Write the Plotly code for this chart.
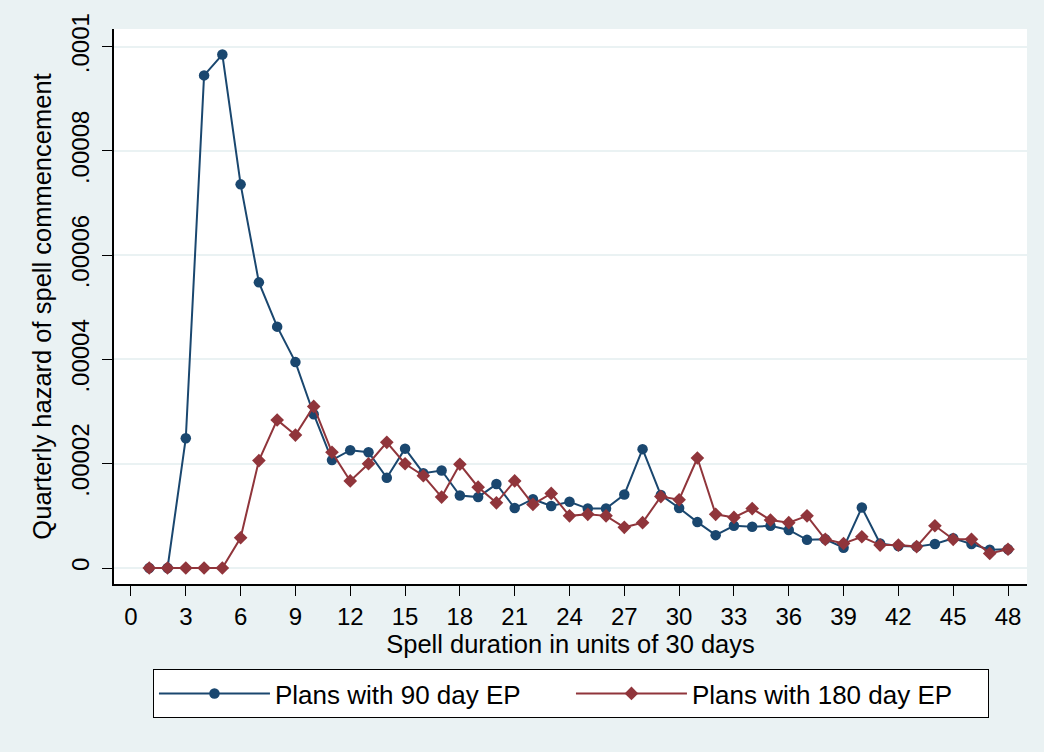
import plotly.graph_objects as go

duration = list(range(1, 49))
ep90 = [0, 0, 0.0000249, 0.0000945, 0.0000985, 0.0000736, 0.0000548, 0.0000463, 0.0000395, 0.0000295,
        0.0000207, 0.0000226, 0.0000222, 0.0000173, 0.0000229, 0.0000182, 0.0000187, 0.0000139, 0.0000136, 0.0000161,
        0.0000115, 0.0000132, 0.0000119, 0.0000127, 0.0000114, 0.0000114, 0.0000141, 0.0000228, 0.0000140, 0.0000115,
        0.0000088, 0.0000063, 0.0000081, 0.0000079, 0.0000081, 0.0000073, 0.0000054, 0.0000055, 0.0000039, 0.0000116,
        0.0000047, 0.0000042, 0.0000041, 0.0000046, 0.0000057, 0.0000046, 0.0000035, 0.0000036]
ep180 = [0, 0, 0, 0, 0, 0.0000058, 0.0000206, 0.0000284, 0.0000255, 0.0000310,
         0.0000222, 0.0000167, 0.0000200, 0.0000241, 0.0000200, 0.0000177, 0.0000136, 0.0000199, 0.0000155, 0.0000125,
         0.0000167, 0.0000122, 0.0000143, 0.0000100, 0.0000103, 0.0000100, 0.0000078, 0.0000087, 0.0000137, 0.0000131,
         0.0000211, 0.0000103, 0.0000097, 0.0000114, 0.0000092, 0.0000087, 0.0000100, 0.0000055, 0.0000047, 0.0000060,
         0.0000044, 0.0000044, 0.0000041, 0.0000081, 0.0000055, 0.0000055, 0.0000028, 0.0000036]
x_ticks = list(range(0, 49, 3))
y_ticks = [0, 0.00002, 0.00004, 0.00006, 0.00008, 0.0001]
y_labels = ["0", ".00002", ".00004", ".00006", ".00008", ".0001"]

BLUE = "#1a476f"
RED = "#90353b"
BG = "#eaf2f3"
FONT = "Liberation Sans, Arial, Helvetica, sans-serif"

fig = go.Figure()
fig.add_trace(go.Scatter(x=duration, y=ep90, mode="lines+markers", name="Plans with 90 day EP",
                         line=dict(color=BLUE, width=2),
                         marker=dict(symbol="circle", size=10.5, color=BLUE)))
fig.add_trace(go.Scatter(x=duration, y=ep180, mode="lines+markers", name="Plans with 180 day EP",
                         line=dict(color=RED, width=2),
                         marker=dict(symbol="diamond", size=10.5, color=RED)))

fig.update_layout(
    width=1044, height=752,
    margin=dict(l=114, r=17, t=29, b=168),
    paper_bgcolor=BG, plot_bgcolor="white",
    font=dict(family=FONT, size=24, color="black"),
    showlegend=True,
    legend=dict(orientation="h", x=0.5005, xanchor="center", y=-0.1532, yanchor="top",
                bgcolor="white", bordercolor="black", borderwidth=1,
                font=dict(size=26), entrywidth=291, entrywidthmode="pixels",
                itemwidth=111),
    xaxis=dict(range=[-0.93, 49.04], tickmode="array", tickvals=x_ticks,
               ticks="outside", ticklen=10, tickwidth=1.3, tickcolor="black",
               showline=True, linecolor="black", linewidth=1.8,
               showgrid=False, zeroline=False,
               title=dict(text="Spell duration in units of 30 days", font=dict(size=25.5), standoff=2),
               tickfont=dict(size=24)),
    yaxis=dict(range=[-0.00000307, 0.0001034], tickmode="array", tickvals=y_ticks, ticktext=y_labels,
               tickangle=-90, ticklabelstandoff=4,
               ticks="outside", ticklen=10, tickwidth=1.3, tickcolor="black",
               showline=True, linecolor="black", linewidth=1.8,
               showgrid=True, gridcolor=BG, gridwidth=2, zeroline=False,
               title=dict(text="Quarterly hazard of spell commencement", font=dict(size=25.5), standoff=8),
               tickfont=dict(size=24)),
)

fig.write_html("out.html", config={"displayModeBar": False},
               post_script="document.body.style.margin='0';document.body.style.background='" + BG + "';")
